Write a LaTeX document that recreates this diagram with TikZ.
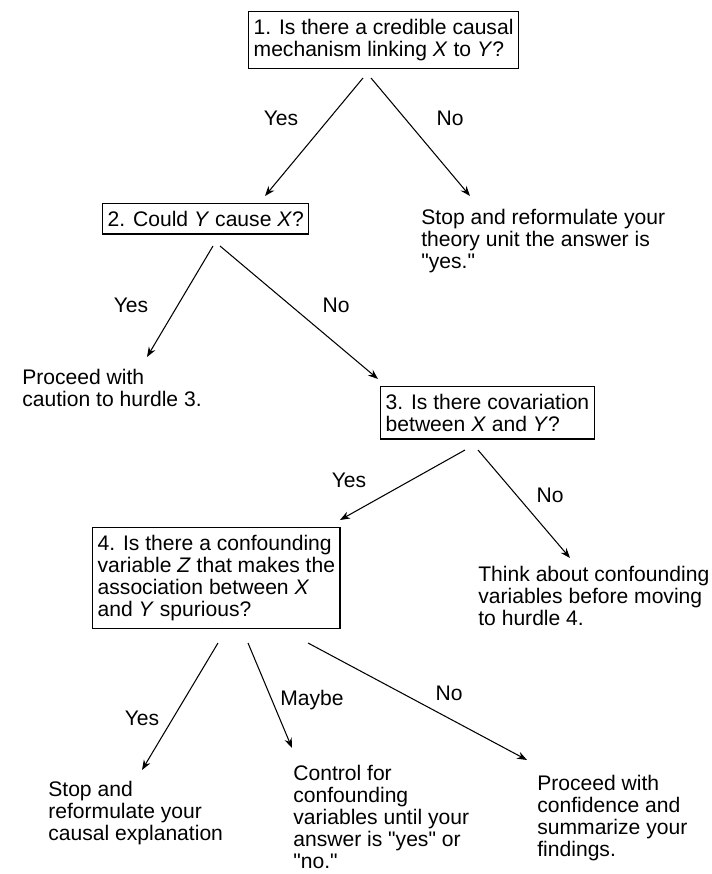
\documentclass[tikz,border=0pt]{standalone}
\usepackage{fontspec}
\setmainfont{Liberation Sans}[Ligatures=TeXOff]
\usetikzlibrary{arrows.meta}

\begin{document}
\begin{tikzpicture}[
    x=0.02cm, y=-0.02cm,
    font={\fontsize{12}{12.5}\selectfont},
    question/.style={draw, line width=0.8pt, align=left, anchor=north west, inner xsep=0.1cm, inner ysep=0.15cm},
    answer/.style={align=left, anchor=north west, inner sep=0pt},
    choice/.style={inner sep=0pt},
    link/.style={-{Stealth[length=2mm, width=1.5mm]}, line width=0.6pt}
]
\useasboundingbox (0,0) rectangle (711,874);

\node[question] (q1) at (248,11) {1. Is there a credible causal\\mechanism linking \textit{X} to \textit{Y}?};
\node[question] (q2) at (102,203) {2. Could \textit{Y} cause \textit{X}?};
\node[question] (q3) at (380,386) {3. Is there covariation\\between \textit{X} and \textit{Y}?};
\node[question] (q4) at (92,527) {4. Is there a confounding\\variable \textit{Z} that makes the\\association between \textit{X}\\and \textit{Y} spurious?};

\node[answer] (a1) at (421,209) {Stop and reformulate your\\theory unit the answer is\\"yes."};
\node[answer] (a2) at (22,369) {Proceed with\\caution to hurdle 3.};
\node[answer] (a3) at (478,566) {Think about confounding\\variables before moving\\to hurdle 4.};
\node[answer] (a4) at (48,781) {Stop and\\reformulate your\\causal explanation};
\node[answer] (a5) at (293,765) {Control for\\confounding\\variables until your\\answer is "yes" or\\"no."};
\node[answer] (a6) at (537,775) {Proceed with\\confidence and\\summarize your\\findings.};

\node[choice] (y1) at (281,118) {Yes};
\node[choice] (n1) at (450,118) {No};
\node[choice] (y2) at (131,305) {Yes};
\node[choice] (n2) at (336,305) {No};
\node[choice] (y3) at (349,480) {Yes};
\node[choice] (n3) at (550,495) {No};
\node[choice] (y4) at (142,718) {Yes};
\node[choice] (m4) at (312,700) {Maybe};
\node[choice] (n4) at (449,693) {No};

\coordinate (q1y) at (363,78);
\coordinate (q1n) at (371,78);
\coordinate (q2top) at (265,196);
\coordinate (a1top) at (470,196);
\coordinate (q2y) at (213,246);
\coordinate (q2n) at (220,246);
\coordinate (a2top) at (147,357);
\coordinate (q3top) at (378,379);
\coordinate (q3y) at (465,450);
\coordinate (q3n) at (478,450);
\coordinate (q4top) at (340,520);
\coordinate (a3top) at (570,558);
\coordinate (q4y) at (218,643);
\coordinate (q4m) at (248,643);
\coordinate (q4n) at (308,643);
\coordinate (a4top) at (142,770);
\coordinate (a5top) at (292,748);
\coordinate (a6top) at (527,760);

\draw[link] (q1y) -- (q2top);
\draw[link] (q1n) -- (a1top);
\draw[link] (q2y) -- (a2top);
\draw[link] (q2n) -- (q3top);
\draw[link] (q3y) -- (q4top);
\draw[link] (q3n) -- (a3top);
\draw[link] (q4y) -- (a4top);
\draw[link] (q4m) -- (a5top);
\draw[link] (q4n) -- (a6top);
\end{tikzpicture}
\end{document}
